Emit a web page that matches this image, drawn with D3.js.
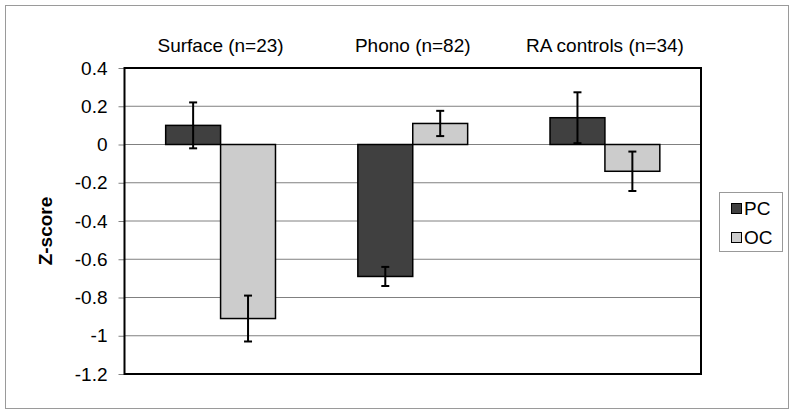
<!DOCTYPE html>
<html><head><meta charset="utf-8">
<script src="https://cdn.jsdelivr.net/npm/d3@7"></script>
<style>body{margin:0;background:#fff;}svg{display:block;font-family:"Liberation Sans",Arial,sans-serif;}</style>
</head><body>
<svg id="c" width="800" height="415"></svg>
<script>
const categories = ["Surface (n=23)", "Phono (n=82)", "RA controls (n=34)"];
const series = ["PC", "OC"];
const pcValues = [0.10, -0.69, 0.14];
const ocValues = [-0.91, 0.11, -0.14];
const pcErrors = [0.12, 0.05, 0.133];
const ocErrors = [0.12, 0.066, 0.103];
const yTicks = [0.4, 0.2, 0, -0.2, -0.4, -0.6, -0.8, -1, -1.2];
const colors = ["#404040", "#cccccc"];

const svg = d3.select("#c");
const L = 124.5, R = 701, T = 68, B = 374;

svg.append("rect").attr("x", 5.5).attr("y", 5.5).attr("width", 783).attr("height", 403)
  .attr("fill", "#fff").attr("stroke", "#9a9a9a").attr("stroke-width", 1);

const x = d3.scaleBand().domain(categories).range([L, R]).paddingInner(0).paddingOuter(0);
const y = d3.scaleLinear().domain([-1.2, 0.4]).range([B, T]);
const barW = x.bandwidth() / (2 + 1.5);
const xs = d3.scaleBand().domain(series).range([0, barW * 2]);

// gridlines
svg.append("g").selectAll("line").data(yTicks).join("line")
  .attr("x1", L).attr("x2", R).attr("y1", d => y(d)).attr("y2", d => y(d))
  .attr("stroke", "#808080").attr("stroke-width", 1);

// y axis
const yAxis = svg.append("g").attr("transform", `translate(${L},0)`)
  .call(d3.axisLeft(y).tickValues(yTicks).tickSize(6).tickPadding(11).tickFormat(d => String(d)));
yAxis.attr("font-size", null).attr("font-family", null);
yAxis.select(".domain").remove();
yAxis.selectAll(".tick line").attr("stroke", "#808080");
yAxis.selectAll("text").attr("fill", "#000").style("font-size", "19px")
  .style("font-family", "'Liberation Sans',Arial,sans-serif");

// category labels on top
svg.append("g").selectAll("text").data(categories).join("text")
  .attr("x", d => x(d) + x.bandwidth() / 2).attr("y", 52)
  .attr("text-anchor", "middle").style("font-size", "19px").text(d => d);

// bars
const data = [];
categories.forEach((c, i) => {
  data.push({c, s: "PC", v: pcValues[i], e: pcErrors[i]});
  data.push({c, s: "OC", v: ocValues[i], e: ocErrors[i]});
});
const bx = d => x(d.c) + (x.bandwidth() - barW * 2) / 2 + xs(d.s);
svg.append("g").selectAll("rect").data(data).join("rect")
  .attr("x", bx).attr("width", barW)
  .attr("y", d => y(Math.max(0, d.v))).attr("height", d => Math.abs(y(d.v) - y(0)))
  .attr("fill", d => colors[series.indexOf(d.s)]).attr("stroke", "#000").attr("stroke-width", 1.5);

// error bars
const eg = svg.append("g").attr("stroke", "#000").attr("stroke-width", 2);
data.forEach(d => {
  const cx = bx(d) + barW / 2;
  eg.append("line").attr("x1", cx).attr("x2", cx).attr("y1", y(d.v + d.e)).attr("y2", y(d.v - d.e));
  [d.v + d.e, d.v - d.e].forEach(v => eg.append("line").attr("x1", cx - 4).attr("x2", cx + 4).attr("y1", y(v)).attr("y2", y(v)));
});

// plot border
svg.append("rect").attr("x", L).attr("y", T).attr("width", R - L).attr("height", B - T)
  .attr("fill", "none").attr("stroke", "#000").attr("stroke-width", 2);

// y label
svg.append("text").attr("transform", "translate(52,231) rotate(-90)")
  .attr("text-anchor", "middle").style("font-size", "19px").attr("font-weight", "bold").text("Z-score");

// legend
const lg = svg.append("g");
lg.append("rect").attr("x", 719.5).attr("y", 192.5).attr("width", 63).attr("height", 59)
  .attr("fill", "#fff").attr("stroke", "#999").attr("stroke-width", 1);
series.forEach((s, i) => {
  const yy = 203 + i * 29;
  lg.append("rect").attr("x", 731.5).attr("y", yy + 0.5).attr("width", 10).attr("height", 10)
    .attr("fill", colors[i]).attr("stroke", "#000").attr("stroke-width", 1);
  lg.append("text").attr("x", 744).attr("y", yy + 11.5).style("font-size", "19px").text(s);
});
</script>
</body></html>
